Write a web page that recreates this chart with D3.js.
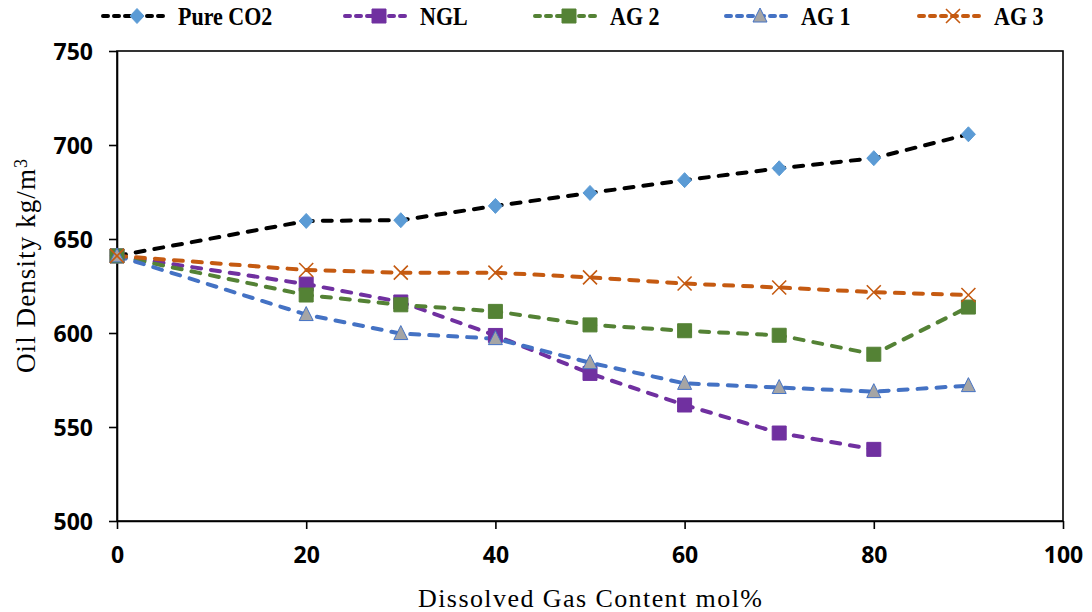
<!DOCTYPE html>
<html>
<head>
<meta charset="utf-8">
<script src="https://cdn.jsdelivr.net/npm/d3@7"></script>
<style>
  html, body { margin: 0; padding: 0; background: #fff; }
  svg { display: block; }
</style>
</head>
<body>
<svg id="chart" width="1092" height="612"></svg>
<script>
// Dissolved gas content (mol%)
const gasContent = [0, 20, 30, 40, 50, 60, 70, 80, 90];

// Oil density (kg/m3) for each injected gas
const pureCO2 = [641, 659.6, 660, 667.6, 674.5, 681.3, 687.6, 693, 705.7];
const ngl     = [641, 626, 616.5, 598.7, 578.5, 561.7, 546.8, 538.1];
const ag2     = [641, 620.2, 615, 611.5, 604.3, 601.2, 598.8, 588.7, 613.8];
const ag1     = [641, 609.8, 599.7, 597, 584.2, 573.2, 571, 568.8, 572];
const ag3     = [641, 633.5, 632.1, 632.1, 629.6, 626.3, 624.2, 621.7, 620.2];

const seriesNames = ["Pure CO2", "NGL", "AG 2", "AG 1", "AG 3"];
const xTicks = [0, 20, 40, 60, 80, 100];
const yTicks = [500, 550, 600, 650, 700, 750];

const series = [
  { name: seriesNames[0], values: pureCO2, line: "#000000", marker: "diamond", fill: "#5B9BD5", stroke: "#5B9BD5" },
  { name: seriesNames[1], values: ngl,     line: "#7030A0", marker: "square",  fill: "#7030A0", stroke: "#7030A0" },
  { name: seriesNames[2], values: ag2,     line: "#548235", marker: "square",  fill: "#548235", stroke: "#548235" },
  { name: seriesNames[3], values: ag1,     line: "#4472C4", marker: "triangle", fill: "#A5A5A5", stroke: "#4472C4" },
  { name: seriesNames[4], values: ag3,     line: "#C55A11", marker: "cross",   fill: "none",    stroke: "#C55A11" }
];

const svg = d3.select("#chart");
const plot = { left: 117, right: 1063, top: 51, bottom: 521 };

const x = d3.scaleLinear().domain([0, 100]).range([plot.left, plot.right]);
const y = d3.scaleLinear().domain([500, 750]).range([plot.bottom, plot.top]);

// Frame around the plot area
svg.append("rect")
  .attr("x", plot.left).attr("y", plot.top)
  .attr("width", plot.right - plot.left).attr("height", plot.bottom - plot.top)
  .attr("fill", "none").attr("stroke", "#000").attr("stroke-width", 1.6);

const tickFont = "'Open Sans', 'Liberation Sans', sans-serif";
const serif = "'Liberation Serif', 'Times New Roman', serif";

// Axes
const xAxis = svg.append("g")
  .attr("transform", `translate(0,${plot.bottom})`)
  .call(d3.axisBottom(x).tickValues(xTicks).tickSize(8).tickPadding(18).tickSizeOuter(0));
const yAxis = svg.append("g")
  .attr("transform", `translate(${plot.left},0)`)
  .call(d3.axisLeft(y).tickValues(yTicks).tickSize(8).tickPadding(16).tickSizeOuter(0));

[xAxis, yAxis].forEach(g => {
  g.select(".domain").attr("stroke", "#000").attr("stroke-width", 1.6);
  g.selectAll(".tick line").attr("stroke", "#000").attr("stroke-width", 1.6);
  g.selectAll(".tick text")
    .attr("fill", "#000")
    .style("font-family", tickFont)
    .style("font-weight", "700")
    .style("font-size", "23px");
});
yAxis.selectAll(".tick text").attr("dy", "0.36em");

// Axis titles
svg.append("text")
  .attr("x", 590).attr("y", 607)
  .attr("text-anchor", "middle")
  .attr("textLength", 344).attr("lengthAdjust", "spacing")
  .style("font-family", serif)
  .style("font-size", "26px")
  .text("Dissolved Gas Content mol%");

const yTitle = svg.append("text")
  .attr("transform", "translate(35,266) rotate(-90)")
  .attr("text-anchor", "middle")
  .style("font-family", serif)
  .style("font-size", "27px");
yTitle.append("tspan").attr("textLength", 204).attr("lengthAdjust", "spacing").text("Oil Density kg/m");
yTitle.append("tspan").attr("dy", "-0.45em").style("font-size", "18px").text("3");

// Marker shapes
function markerPath(type) {
  switch (type) {
    case "diamond":  return "M0,-7.5L7,0L0,7.5L-7,0Z";
    case "square":   return "M-7,-7H7V7H-7Z";
    case "triangle": return "M0,-8L7,6H-7Z";
    case "cross":    return "M-7,-7L7,7M-7,7L7,-7";
  }
}

function drawMarker(g, s, cx, cy) {
  g.append("path")
    .attr("d", markerPath(s.marker))
    .attr("transform", `translate(${cx},${cy})`)
    .attr("fill", s.fill)
    .attr("stroke", s.stroke)
    .attr("stroke-width", s.marker === "cross" ? 1.6 : 1);
}

const line = d3.line()
  .x((d, i) => x(gasContent[i]))
  .y(d => y(d));

const dash = "9,10";

series.forEach(s => {
  svg.append("path")
    .datum(s.values)
    .attr("d", line)
    .attr("fill", "none")
    .attr("stroke", s.line)
    .attr("stroke-width", 4)
    .attr("stroke-dasharray", dash)
    .attr("stroke-linecap", "round");
});

series.forEach(s => {
  const g = svg.append("g");
  s.values.forEach((v, i) => drawMarker(g, s, x(gasContent[i]), y(v)));
});

// Legend across the top
const legendX = [101, 343, 533, 724, 917];
const legendY = 16;
series.forEach((s, i) => {
  const g = svg.append("g").attr("transform", `translate(${legendX[i]},${legendY})`);
  g.append("line")
    .attr("x1", 2).attr("x2", 68).attr("y1", 0).attr("y2", 0)
    .attr("stroke", s.line).attr("stroke-width", 4)
    .attr("stroke-dasharray", "5,6").attr("stroke-linecap", "round");
  drawMarker(g, s, 36, 0);
  g.append("text")
    .attr("transform", "translate(77,0) scale(0.88,1)")
    .attr("dy", "0.35em")
    .style("font-family", serif)
    .style("font-weight", "700")
    .style("font-size", "25px")
    .text(s.name);
});
</script>
</body>
</html>
